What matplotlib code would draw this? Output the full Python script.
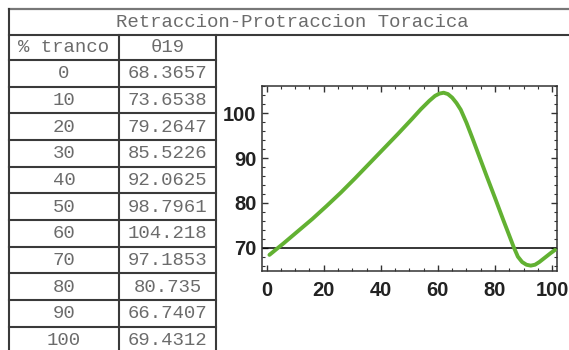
import matplotlib
matplotlib.use("Agg")
import matplotlib.pyplot as plt
from matplotlib.ticker import MultipleLocator

# table data
pct = [0, 10, 20, 30, 40, 50, 60, 70, 80, 90, 100]
theta = ["68.3657", "73.6538", "79.2647", "85.5226", "92.0625", "98.7961",
         "104.218", "97.1853", "80.735", "66.7407", "69.4312"]

# curve (sample index 1..101)
curve_x = [1, 6, 11, 16, 21, 26, 31, 36, 41, 46, 51, 54, 57, 59, 60.5, 62,
           63.5, 65, 66.5, 68, 70, 72, 74, 77, 80, 83, 85, 86.5, 88, 89.5,
           91, 92.5, 94, 95.5, 97.5, 99.5, 101]
curve_y = [68.4, 71.0, 73.7, 76.4, 79.3, 82.3, 85.5, 88.8, 92.1, 95.4, 98.8,
           100.9, 102.8, 103.9, 104.4, 104.6, 104.3, 103.5, 102.3, 100.8,
           97.9, 94.6, 91.2, 86.1, 81.1, 76.0, 72.7, 70.2, 68.0, 66.8, 66.2,
           66.0, 66.2, 66.8, 67.8, 68.8, 69.5]

title = "Retraccion-Protraccion Toracica"
col_names = ["% tranco", "\u03b819"]

fig = plt.figure(figsize=(5.69, 3.5), dpi=100)

# background axes in pixel units for the table grid
bg = fig.add_axes([0, 0, 1, 1])
bg.set_xlim(0, 569)
bg.set_ylim(350, 0)
bg.axis("off")

mono = "Liberation Mono"
tcol = "#6b6b6b"
lcol = "#3a3a3a"
fs = 13.7

x0, x1, x2, xr = 9, 119, 216, 569
y_top, y_title, y_head = 8.5, 35, 60
row_h = 26.67

# grid lines
bg.plot([x0, xr], [y_top, y_top], color="#777777", lw=1.6)
bg.plot([x0, xr], [y_title, y_title], color=lcol, lw=1.5)
bg.plot([x0, x2], [y_head, y_head], color=lcol, lw=1.5)
for k in range(1, len(pct)):
    y = y_head + k * row_h
    bg.plot([x0, x2], [y, y], color=lcol, lw=1.5)
bg.plot([x0, x0], [y_top, 350], color=lcol, lw=1.5)
for x in [x1, x2]:
    bg.plot([x, x], [y_title, 350], color=lcol, lw=1.5)

bg.text(292, (y_top + y_title) / 2 + 0.5, title, family=mono, fontsize=fs,
        color=tcol, ha="center", va="center")
bg.text((x0 + x1) / 2, (y_title + y_head) / 2 + 0.5, col_names[0], family=mono,
        fontsize=fs, color=tcol, ha="center", va="center")
bg.text((x1 + x2) / 2, (y_title + y_head) / 2 + 0.5, col_names[1], family=mono,
        fontsize=fs, color=tcol, ha="center", va="center")
for k, (p, t) in enumerate(zip(pct, theta)):
    yc = y_head + (k + 0.5) * row_h + 0.5
    bg.text((x0 + x1) / 2, yc, str(p), family=mono, fontsize=fs, color=tcol,
            ha="center", va="center")
    bg.text((x1 + x2) / 2, yc, t, family=mono, fontsize=fs, color=tcol,
            ha="center", va="center")

# the plot
ax = fig.add_axes([262 / 569, 1 - 271 / 350, (557 - 262) / 569, (271 - 86) / 350])
ax.plot(curve_x, curve_y, color="#62b132", lw=2.8, solid_capstyle="round",
        solid_joinstyle="round", zorder=3)
ax.axhline(70, color="black", lw=1.1, zorder=2)
ax.set_xlim(-1.6, 101.7)
ax.set_ylim(64.8, 106.1)

ax.xaxis.set_major_locator(MultipleLocator(20))
ax.xaxis.set_minor_locator(MultipleLocator(5))
ax.yaxis.set_major_locator(MultipleLocator(10))
ax.yaxis.set_minor_locator(MultipleLocator(2))
ax.set_yticks([70, 80, 90, 100])
ax.tick_params(which="both", direction="in", top=True, right=True,
               color="#333333")
ax.tick_params(which="major", length=4, width=1)
ax.tick_params(which="minor", length=2, width=0.8)
ax.tick_params(axis="x", pad=7)
ax.tick_params(axis="y", pad=4)
for lab in ax.get_xticklabels() + ax.get_yticklabels():
    lab.set_family("Liberation Sans")
    lab.set_fontweight("bold")
    lab.set_fontsize(14.5)
    lab.set_color("#222222")
for s in ax.spines.values():
    s.set_color("#333333")
    s.set_linewidth(1.1)

fig.savefig("out.png", dpi=100)
